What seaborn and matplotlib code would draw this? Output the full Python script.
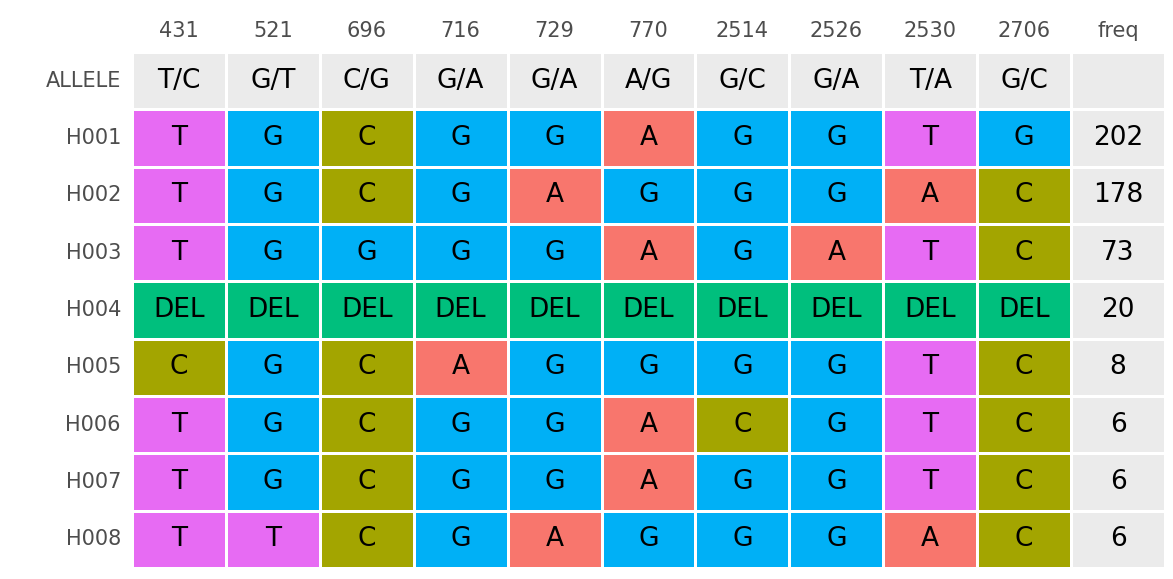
import matplotlib
matplotlib.use("Agg")
import matplotlib.pyplot as plt
import seaborn as sns
import numpy as np
from matplotlib.colors import ListedColormap

positions = ["431","521","696","716","729","770","2514","2526","2530","2706"]
alleles = ["T/C","G/T","C/G","G/A","G/A","A/G","G/C","G/A","T/A","G/C"]
haplotypes = ["H001","H002","H003","H004","H005","H006","H007","H008"]
genotypes = [
    ["T","G","C","G","G","A","G","G","T","G"],
    ["T","G","C","G","A","G","G","G","A","C"],
    ["T","G","G","G","G","A","G","A","T","C"],
    ["DEL"]*10,
    ["C","G","C","A","G","G","G","G","T","C"],
    ["T","G","C","G","G","A","C","G","T","C"],
    ["T","G","C","G","G","A","G","G","T","C"],
    ["T","T","C","G","A","G","G","G","A","C"],
]
freq = [202,178,73,20,8,6,6,6]

code = {"T":1,"G":2,"C":3,"A":4,"DEL":5}
cmap = ListedColormap(["#EBEBEB","#E76BF3","#00B0F6","#A3A500","#F8766D","#00BF7D"])

vals = [[0]*11] + [[code[g] for g in row]+[0] for row in genotypes]
annot = [alleles+[""]] + [row+[str(f)] for row,f in zip(genotypes,freq)]
vals = np.array(vals); annot = np.array(annot)

fig = plt.figure(figsize=(11.73,5.79), dpi=100)
ax = fig.add_axes([132/1173, 11/579, 1033/1173, 516/579])
sns.heatmap(vals, cmap=cmap, vmin=-0.5, vmax=5.5, annot=annot, fmt="", cbar=False,
            linewidths=1, linecolor="white", ax=ax,
            annot_kws={"fontsize":19, "color":"black"})
ax.xaxis.tick_top()
ax.set_xticks(np.arange(11)+0.5)
ax.set_xticklabels(positions+["freq"], fontsize=15, color="#4D4D4D")
ax.set_yticks(np.arange(9)+0.5)
ax.set_yticklabels(["ALLELE"]+haplotypes, fontsize=15, color="#4D4D4D", rotation=0)
ax.tick_params(length=0, pad=8)
for s in ax.spines.values():
    s.set_visible(False)
fig.savefig("out.png", dpi=100)
